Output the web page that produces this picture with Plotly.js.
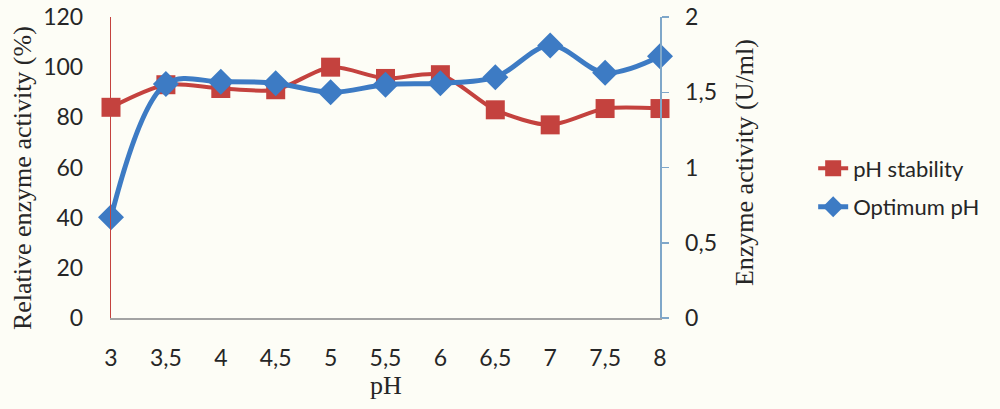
<!DOCTYPE html>
<html>
<head>
<meta charset="utf-8">
<script src="https://cdn.plot.ly/plotly-3.0.1.min.js"></script>
<style>
  html, body { margin: 0; padding: 0; background: #fdfdf6; }
  #chart { width: 1000px; height: 409px; }
</style>
</head>
<body>
<div id="chart"></div>
<script>
// pH values tested
const pH = [3, 3.5, 4, 4.5, 5, 5.5, 6, 6.5, 7, 7.5, 8];
const pHLabels = ['3', '3,5', '4', '4,5', '5', '5,5', '6', '6,5', '7', '7,5', '8'];

// Relative enzyme activity (%) after incubation at each pH
const phStability = [84, 93, 91.5, 91, 100, 95.5, 97, 83, 77, 83.5, 83.5];

// Enzyme activity (U/ml) measured at each pH
const optimumPh = [0.67, 1.555, 1.57, 1.56, 1.5, 1.55, 1.56, 1.6, 1.81, 1.63, 1.74];

const leftTicks = [0, 20, 40, 60, 80, 100, 120];
const rightTicks = [0, 0.5, 1, 1.5, 2];
const rightTickLabels = ['0', '0,5', '1', '1,5', '2'];

const RED = '#c4423e';
const BLUE = '#3d7bc4';
const tickFont = { family: 'Lato, "Open Sans", sans-serif', size: 23, color: '#262626' };
const legendFont = { family: 'Lato, "Open Sans", sans-serif', size: 22, color: '#262626' };
const titleFont = { family: '"Liberation Serif", "DejaVu Serif", serif', size: 26, color: '#262626' };

const traces = [
  {
    x: pH, y: phStability, name: 'pH stability', type: 'scatter', mode: 'lines+markers',
    yaxis: 'y', cliponaxis: false, legendgroup: 'stability',
    line: { color: RED, width: 4, shape: 'spline', smoothing: 0.8 },
    marker: { symbol: 'square', size: 19, color: RED }
  },
  {
    x: pH, y: optimumPh, name: 'Optimum pH', type: 'scatter', mode: 'lines+markers',
    yaxis: 'y2', cliponaxis: false, legendgroup: 'optimum',
    line: { color: BLUE, width: 5, shape: 'spline', smoothing: 1 },
    marker: { symbol: 'diamond', size: 20, color: BLUE }
  }
];

const layout = {
  width: 1000, height: 409,
  margin: { l: 111, r: 340, t: 17, b: 91 },
  paper_bgcolor: '#fdfdf6',
  plot_bgcolor: 'rgba(0,0,0,0)',
  separators: ',.',
  showlegend: true,
  legend: {
    x: 1.279, y: 0.567, xanchor: 'left', yanchor: 'top',
    font: legendFont, bgcolor: 'rgba(0,0,0,0)',
    tracegroupgap: 7, itemsizing: 'trace'
  },
  xaxis: {
    range: [3, 8], tickvals: pH, ticktext: pHLabels,
    showgrid: false, zeroline: false,
    showline: true, linecolor: '#a3a3a3', linewidth: 1.5,
    ticks: '', ticklabelstandoff: 19, tickfont: tickFont
  },
  yaxis: {
    range: [0, 120], tickvals: leftTicks,
    showgrid: false, zeroline: false,
    showline: true, linecolor: RED, linewidth: 1.2,
    ticks: '', ticklabelstandoff: 22, tickfont: tickFont
  },
  yaxis2: {
    range: [0, 2], tickvals: rightTicks, ticktext: rightTickLabels,
    overlaying: 'y', side: 'right',
    showgrid: false, zeroline: false,
    showline: true, linecolor: '#7fa7c9', linewidth: 1.5,
    ticks: 'outside', ticklen: 7, tickcolor: '#7fa7c9', tickwidth: 1.5,
    ticklabelstandoff: 12, tickfont: tickFont
  },
  annotations: [
    {
      text: 'Relative enzyme activity (%)', textangle: -90,
      xref: 'paper', yref: 'paper', x: -0.162, y: 0.465,
      xanchor: 'center', yanchor: 'middle', showarrow: false, font: titleFont
    },
    {
      text: 'Enzyme activity (U/ml)', textangle: -90,
      xref: 'paper', yref: 'paper', x: 1.155, y: 0.515,
      xanchor: 'center', yanchor: 'middle', showarrow: false, font: titleFont
    },
    {
      text: 'pH', xref: 'paper', yref: 'paper', x: 0.5, y: -0.223,
      xanchor: 'center', yanchor: 'middle', showarrow: false, font: titleFont
    }
  ]
};

Plotly.newPlot('chart', traces, layout, { staticPlot: true, displayModeBar: false });
</script>
</body>
</html>
